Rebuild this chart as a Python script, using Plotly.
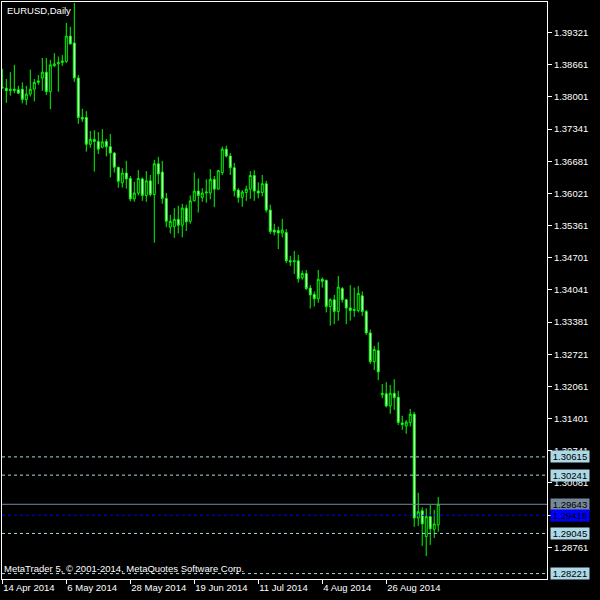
"""EURUSD daily candles, MetaTrader 5 style."""

import pandas as pd
import plotly.graph_objects as go

# daily bars from 14 Apr 2014, one per weekday
dates = pd.bdate_range("2014-04-14", periods=110)

open_ = [
    1.3820, 1.3818, 1.3813, 1.3816, 1.3815, 1.3816, 1.3795, 1.3806, 1.3816, 1.3830,
    1.3839, 1.3851, 1.3811, 1.3864, 1.3868, 1.3871, 1.3873, 1.3925, 1.3911, 1.3839,
    1.3758, 1.3758, 1.3703, 1.3713, 1.3709, 1.3697, 1.3709, 1.3698, 1.3685, 1.3656,
    1.3624, 1.3644, 1.3633, 1.3591, 1.3603, 1.3632, 1.3598, 1.3628, 1.3600, 1.3663,
    1.3646, 1.3592, 1.3533, 1.3534, 1.3549, 1.3537, 1.3572, 1.3545, 1.3587, 1.3607,
    1.3594, 1.3603, 1.3603, 1.3631, 1.3611, 1.3645, 1.3693, 1.3679, 1.3655, 1.3609,
    1.3594, 1.3604, 1.3611, 1.3639, 1.3607, 1.3604, 1.3622, 1.3568, 1.3527, 1.3526,
    1.3521, 1.3522, 1.3464, 1.3462, 1.3464, 1.3429, 1.3438, 1.3408, 1.3395, 1.3386,
    1.3426, 1.3424, 1.3370, 1.3384, 1.3360, 1.3407, 1.3384, 1.3367, 1.3362, 1.3362,
    1.3392, 1.3360, 1.3316, 1.3257, 1.3280, 1.3189, 1.3191, 1.3166, 1.3192, 1.3184,
    1.3131, 1.3125, 1.3132, 1.3149, 1.2936, 1.2951, 1.2898, 1.2939, 1.2913, 1.2922,
]
high = [
    1.3858, 1.3837, 1.3851, 1.3866, 1.3823, 1.3830, 1.3823, 1.3856, 1.3837, 1.3845,
    1.3880, 1.3880, 1.3876, 1.3890, 1.3883, 1.3886, 1.3952, 1.3944, 1.3993, 1.3845,
    1.3776, 1.3771, 1.3730, 1.3732, 1.3728, 1.3734, 1.3714, 1.3724, 1.3687, 1.3656,
    1.3654, 1.3669, 1.3638, 1.3626, 1.3650, 1.3635, 1.3648, 1.3640, 1.3671, 1.3677,
    1.3669, 1.3603, 1.3558, 1.3572, 1.3577, 1.3581, 1.3579, 1.3598, 1.3645, 1.3633,
    1.3613, 1.3631, 1.3652, 1.3638, 1.3650, 1.3698, 1.3700, 1.3685, 1.3665, 1.3613,
    1.3609, 1.3618, 1.3648, 1.3650, 1.3625, 1.3640, 1.3628, 1.3579, 1.3540, 1.3534,
    1.3550, 1.3529, 1.3474, 1.3484, 1.3476, 1.3444, 1.3445, 1.3414, 1.3401, 1.3445,
    1.3430, 1.3425, 1.3387, 1.3394, 1.3433, 1.3410, 1.3386, 1.3414, 1.3409, 1.3412,
    1.3401, 1.3363, 1.3323, 1.3289, 1.3297, 1.3211, 1.3215, 1.3209, 1.3221, 1.3197,
    1.3146, 1.3137, 1.3160, 1.3154, 1.2988, 1.2958, 1.2956, 1.2963, 1.2953, 1.2979,
]
low = [
    1.3817, 1.3788, 1.3803, 1.3808, 1.3806, 1.3787, 1.3784, 1.3801, 1.3791, 1.3825,
    1.3813, 1.3804, 1.3775, 1.3862, 1.3811, 1.3864, 1.3870, 1.3908, 1.3831, 1.3745,
    1.3749, 1.3688, 1.3696, 1.3647, 1.3683, 1.3695, 1.3678, 1.3635, 1.3645, 1.3614,
    1.3614, 1.3612, 1.3586, 1.3585, 1.3598, 1.3587, 1.3585, 1.3596, 1.3501, 1.3621,
    1.3581, 1.3533, 1.3520, 1.3511, 1.3520, 1.3512, 1.3525, 1.3540, 1.3586, 1.3563,
    1.3585, 1.3583, 1.3590, 1.3574, 1.3610, 1.3640, 1.3676, 1.3640, 1.3596, 1.3583,
    1.3575, 1.3587, 1.3591, 1.3587, 1.3592, 1.3596, 1.3563, 1.3519, 1.3516, 1.3488,
    1.3512, 1.3459, 1.3453, 1.3437, 1.3419, 1.3425, 1.3404, 1.3366, 1.3370, 1.3378,
    1.3409, 1.3358, 1.3331, 1.3334, 1.3341, 1.3378, 1.3334, 1.3341, 1.3349, 1.3358,
    1.3351, 1.3312, 1.3252, 1.3240, 1.3219, 1.3182, 1.3163, 1.3150, 1.3158, 1.3127,
    1.3117, 1.3109, 1.3124, 1.2918, 1.2920, 1.2879, 1.2858, 1.2881, 1.2895, 1.2908,
]
close = [
    1.3819, 1.3813, 1.3816, 1.3814, 1.3808, 1.3795, 1.3806, 1.3816, 1.3830, 1.3833,
    1.3851, 1.3811, 1.3866, 1.3868, 1.3871, 1.3874, 1.3925, 1.3909, 1.3839, 1.3758,
    1.3755, 1.3703, 1.3713, 1.3709, 1.3693, 1.3708, 1.3698, 1.3685, 1.3656, 1.3627,
    1.3644, 1.3632, 1.3591, 1.3603, 1.3633, 1.3598, 1.3628, 1.3600, 1.3663, 1.3642,
    1.3592, 1.3545, 1.3545, 1.3549, 1.3537, 1.3572, 1.3544, 1.3587, 1.3607, 1.3598,
    1.3603, 1.3605, 1.3631, 1.3611, 1.3649, 1.3693, 1.3679, 1.3655, 1.3608, 1.3594,
    1.3605, 1.3611, 1.3639, 1.3607, 1.3603, 1.3622, 1.3568, 1.3524, 1.3523, 1.3521,
    1.3527, 1.3464, 1.3462, 1.3464, 1.3427, 1.3438, 1.3407, 1.3394, 1.3386, 1.3426,
    1.3422, 1.3370, 1.3384, 1.3360, 1.3410, 1.3384, 1.3367, 1.3362, 1.3364, 1.3397,
    1.3360, 1.3316, 1.3257, 1.3282, 1.3236, 1.3192, 1.3166, 1.3192, 1.3183, 1.3132,
    1.3128, 1.3133, 1.3149, 1.2936, 1.2949, 1.2924, 1.2939, 1.2914, 1.2924, 1.29643,
]

# price axis ticks
price_ticks = [
    1.28761, 1.29421, 1.30081, 1.30741, 1.31401, 1.32061, 1.32721, 1.33381, 1.34041,
    1.34701, 1.35361, 1.36021, 1.36681, 1.37341, 1.38001, 1.38661, 1.39321,
]
date_tick_idx = [0, 16, 32, 48, 64, 80, 96]

# horizontal price levels
level_prices = [1.30615, 1.30241, 1.29045, 1.28221]
bid_price = 1.29643
blue_price = 1.29418

FONT = "Liberation Sans, Arial, sans-serif"
GREEN = "#00ff00"
LEVEL = "#add8e6"

x = list(range(len(dates)))

fig = go.Figure()
fig.add_trace(
    go.Candlestick(
        x=x,
        open=open_,
        high=high,
        low=low,
        close=close,
        increasing=dict(line=dict(color=GREEN, width=1), fillcolor="#000000"),
        decreasing=dict(line=dict(color=GREEN, width=1), fillcolor="#ffffff"),
        showlegend=False,
        hoverinfo="skip",
    )
)

for p in level_prices:
    fig.add_hline(y=p, line=dict(color=LEVEL, width=1, dash="3px,3px"))
fig.add_hline(y=bid_price, line=dict(color="#778899", width=1))
fig.add_hline(y=blue_price, line=dict(color="#0000ff", width=1, dash="3px,3px"))

labels = [(p, LEVEL) for p in level_prices] + [(bid_price, "#778899"), (blue_price, "#0000ff")]
for p, bg in labels:
    fig.add_annotation(
        xref="paper", x=1, xanchor="left", xshift=3,
        yref="y", y=p, yanchor="middle",
        text=f"{p:.5f}", showarrow=False,
        bgcolor=bg, font=dict(family=FONT, size=9.5, color="#000000"),
        width=36, height=9, borderpad=1,
    )

fig.add_annotation(
    xref="paper", x=0, xanchor="left", xshift=3,
    yref="paper", y=1, yanchor="top", yshift=-1,
    text="EURUSD,Daily", showarrow=False,
    font=dict(family=FONT, size=9.5, color="#ffffff"),
)
fig.add_annotation(
    xref="paper", x=0, xanchor="left", xshift=0,
    yref="paper", y=0, yanchor="bottom", yshift=3,
    text="MetaTrader 5, © 2001-2014, MetaQuotes Software Corp.", showarrow=False,
    font=dict(family=FONT, size=9.5, color="#ffffff"),
)

fig.update_xaxes(
    range=[-0.08, 136.2],
    tickvals=date_tick_idx,
    ticktext=[f"{dates[i].day} {dates[i]:%b %Y}" for i in date_tick_idx],
    ticklabelposition="outside right",
    ticks="outside", ticklen=4, tickcolor="#ffffff",
    showline=True, linecolor="#ffffff", linewidth=1, mirror=True,
    showgrid=False, zeroline=False,
    rangeslider=dict(visible=False),
    tickfont=dict(family=FONT, size=9.5, color="#ffffff"),
)
fig.update_yaxes(
    side="right",
    range=[1.2811, 1.3995],
    tickvals=price_ticks,
    tickformat=".5f",
    ticks="outside", ticklen=4, tickcolor="#ffffff",
    showline=True, linecolor="#ffffff", linewidth=1, mirror=True,
    showgrid=False, zeroline=False,
    tickfont=dict(family=FONT, size=9.5, color="#ffffff"),
)
fig.update_layout(
    width=600, height=600,
    margin=dict(l=2, r=53, t=2, b=21),
    paper_bgcolor="#000000", plot_bgcolor="#000000",
    showlegend=False,
)

# drop the browser's default body margin so the chart sits at the window corner
fig.write_html(
    "out.html",
    config={"displayModeBar": False},
    post_script="document.body.style.margin = '0px';",
)
